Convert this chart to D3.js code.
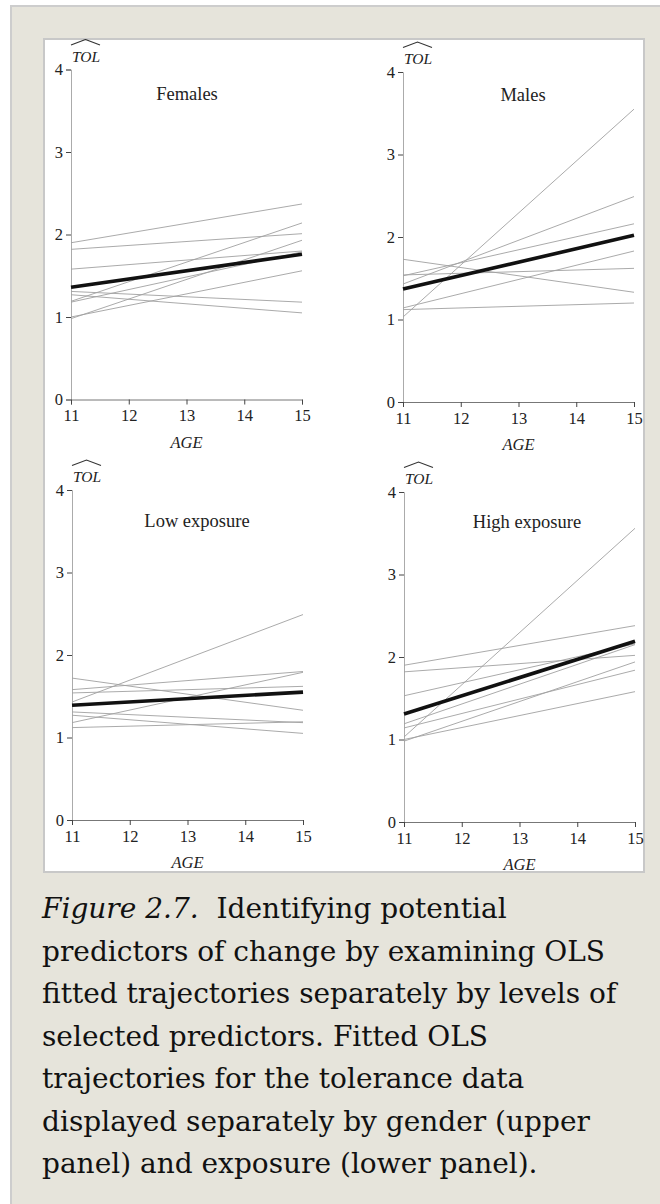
<!DOCTYPE html>
<html>
<head>
<meta charset="utf-8">
<script src="https://cdn.jsdelivr.net/npm/d3@7/dist/d3.min.js"></script>
<style>
  body { margin: 0; background: #fff; }
  svg { display: block; }
</style>
</head>
<body>
<div id="chart"></div>
<script>
const ages = [11, 12, 13, 14, 15];
const tolTicks = [0, 1, 2, 3, 4];
const panelTitles = ["Females", "Males", "Low exposure", "High exposure"];

// fitted TOL at age 11 and at age 15, one pair per adolescent
const femaleLines = [[1.90, 2.37], [1.82, 2.01], [1.58, 1.80], [1.31, 1.18], [1.27, 1.05],
  [1.00, 1.56], [1.19, 2.14], [1.18, 1.79], [0.98, 1.93]];
const maleLines = [[1.03, 3.55], [1.12, 1.20], [1.14, 1.83], [1.43, 2.49], [1.54, 1.62],
  [1.73, 1.33], [1.53, 2.16]];
const lowExposureLines = [[1.43, 2.49], [1.54, 1.62], [1.31, 1.18], [1.58, 1.80], [1.12, 1.19],
  [1.27, 1.05], [1.72, 1.33], [1.18, 1.79]];
const highExposureLines = [[1.90, 2.38], [1.82, 2.02], [1.53, 2.16], [1.14, 1.84], [1.00, 1.58],
  [1.19, 2.15], [0.98, 1.94], [1.03, 3.56]];

// average trajectory (thick line)
const femaleMean = [1.36, 1.76];
const maleMean = [1.37, 2.02];
const lowExposureMean = [1.39, 1.55];
const highExposureMean = [1.31, 2.19];

const captionLines = [
  "predictors of change by examining OLS",
  "fitted trajectories separately by levels of",
  "selected predictors. Fitted OLS",
  "trajectories for the tolerance data",
  "displayed separately by gender (upper",
  "panel) and exposure (lower panel)."
];

const width = 660, height = 1204;
const serif = "'Liberation Serif', 'Times New Roman', serif";

const svg = d3.select("#chart").append("svg")
  .attr("width", width)
  .attr("height", height);

// page frame
svg.append("rect").attr("x", 10).attr("y", 5).attr("width", 660).attr("height", 1210)
  .attr("fill", "#e6e4db");
svg.append("path").attr("d", "M11,1210V6H660")
  .attr("fill", "none").attr("stroke", "#cdcdcd").attr("stroke-width", 2);

// white figure box
svg.append("defs").append("clipPath").attr("id", "fig-clip")
  .append("rect").attr("x", 44).attr("y", 39).attr("width", 600).attr("height", 833);
svg.append("rect").attr("x", 44).attr("y", 39).attr("width", 600).attr("height", 833)
  .attr("fill", "#fff").attr("stroke", "#c8c8c8").attr("stroke-width", 2);

const fig = svg.append("g").attr("clip-path", "url(#fig-clip)");

const panels = [
  { title: panelTitles[0], lines: femaleLines, mean: femaleMean, left: 71, top: 69.5, bottom: 399.5, titleX: 187, titleY: 100 },
  { title: panelTitles[1], lines: maleLines, mean: maleMean, left: 403, top: 72, bottom: 402, titleX: 523, titleY: 101 },
  { title: panelTitles[2], lines: lowExposureLines, mean: lowExposureMean, left: 72, top: 490, bottom: 820, titleX: 197, titleY: 527 },
  { title: panelTitles[3], lines: highExposureLines, mean: highExposureMean, left: 404, top: 492, bottom: 822, titleX: 527, titleY: 528 }
];

panels.forEach((p) => {
  const x = d3.scaleLinear().domain([11, 15]).range([p.left, p.left + 231]);
  const y = d3.scaleLinear().domain([0, 4]).range([p.bottom, p.top]);
  const line = d3.line().x((d) => x(d[0])).y((d) => y(d[1]));
  const g = fig.append("g");

  // y axis
  const yAxis = g.append("g")
    .attr("transform", `translate(${p.left},0)`)
    .call(d3.axisLeft(y).tickValues(tolTicks).tickSize(5).tickPadding(3).tickFormat(d3.format("d")));
  yAxis.select(".domain").attr("stroke", "#ababab").attr("stroke-width", 1);
  yAxis.selectAll(".tick line").attr("stroke", "#444");
  yAxis.selectAll(".tick text").attr("fill", "#222").style("font-family", serif).style("font-size", "16.5px");

  // x axis
  const xAxis = g.append("g")
    .attr("transform", `translate(0,${p.bottom})`)
    .call(d3.axisBottom(x).tickValues(ages).tickSize(5).tickPadding(5).tickFormat(d3.format("d")));
  xAxis.select(".domain").attr("stroke", "#777").attr("stroke-width", 1);
  xAxis.selectAll(".tick line").attr("stroke", "#444");
  xAxis.selectAll(".tick text").attr("fill", "#222").style("font-family", serif).style("font-size", "16.5px");

  // individual trajectories
  g.selectAll("path.traj")
    .data(p.lines)
    .join("path")
    .attr("class", "traj")
    .attr("d", (d) => line([[11, d[0]], [15, d[1]]]))
    .attr("fill", "none")
    .attr("stroke", "#a0a0a0")
    .attr("stroke-width", 0.9);

  // average trajectory
  g.append("path")
    .attr("d", line([[11, p.mean[0]], [15, p.mean[1]]]))
    .attr("fill", "none")
    .attr("stroke", "#111")
    .attr("stroke-width", 3.6);

  // TOL hat label
  g.append("text")
    .attr("x", p.left + 1)
    .attr("y", p.top - 8)
    .text("TOL")
    .style("font-family", serif)
    .style("font-style", "italic")
    .style("font-size", "15.5px")
    .attr("fill", "#222");
  g.append("path")
    .attr("d", `M${p.left},${p.top - 24.5}L${p.left + 14.5},${p.top - 30}L${p.left + 29},${p.top - 24.5}`)
    .attr("fill", "none")
    .attr("stroke", "#333")
    .attr("stroke-width", 1.1);

  g.append("text")
    .attr("x", p.titleX)
    .attr("y", p.titleY)
    .attr("text-anchor", "middle")
    .text(p.title)
    .style("font-family", serif)
    .style("font-size", "18.5px")
    .attr("fill", "#222");

  g.append("text")
    .attr("x", x(13))
    .attr("y", p.bottom + 48)
    .attr("text-anchor", "middle")
    .text("AGE")
    .style("font-family", serif)
    .style("font-style", "italic")
    .style("font-size", "16.5px")
    .attr("fill", "#222");
});

// caption
const caption = svg.append("g")
  .style("font-family", "'DejaVu Serif', serif")
  .style("font-size", "28px")
  .attr("fill", "#111");

const first = caption.append("text").attr("x", 42).attr("y", 918).attr("xml:space", "preserve");
first.append("tspan").style("font-style", "italic").text("Figure 2.7.");
first.append("tspan").text("  Identifying potential");

caption.selectAll("text.line")
  .data(captionLines)
  .join("text")
  .attr("class", "line")
  .attr("x", 42)
  .attr("y", (d, i) => 918 + 42.5 * (i + 1))
  .text((d) => d);
</script>
</body>
</html>
